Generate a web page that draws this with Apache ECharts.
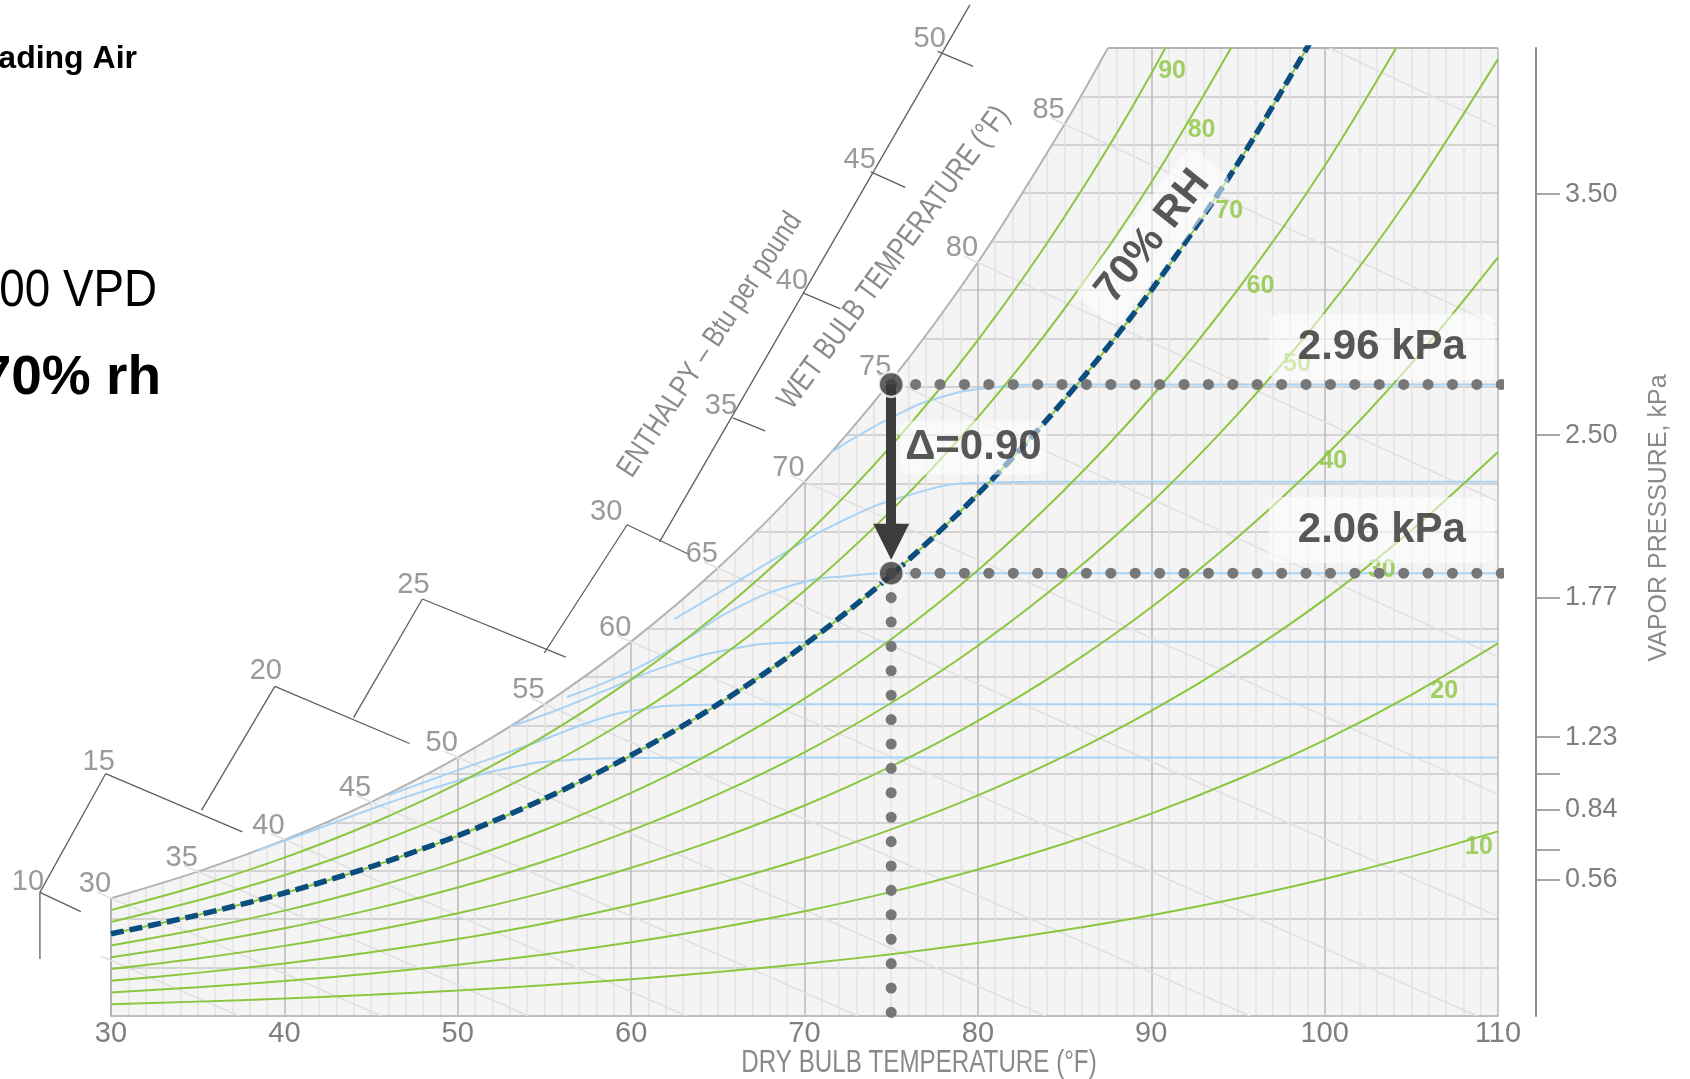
<!DOCTYPE html>
<html>
<head>
<meta charset="utf-8">
<title>Psychrometric chart – VPD</title>
<script src="https://cdn.jsdelivr.net/npm/echarts@6/dist/echarts.min.js"></script>
<style>
  html, body { margin: 0; padding: 0; background: #fff; }
  #chart { width: 1690px; height: 1079px; }
</style>
</head>
<body>
<div id="chart"></div>
<script>
// dry bulb temperatures (°F) for the RH curves
const temps = [30, 35, 40, 45, 50, 55, 60, 65, 70, 75, 80, 85, 90, 95, 100, 105, 110];

// humidity ratio, grains per lb of dry air
const rh10 = [2.42, 2.97, 3.61, 4.38, 5.28, 6.36, 7.61, 9.08, 10.79, 12.78, 15.09, 17.75, 20.81, 24.32, 28.32, 32.93, 38.15];
const rh20 = [4.84, 5.94, 7.23, 8.77, 10.58, 12.73, 15.26, 18.20, 21.64, 25.64, 30.28, 35.65, 41.81, 48.92, 57.01, 66.36, 76.98];
const rh30 = [7.27, 8.91, 10.86, 13.16, 15.89, 19.12, 22.92, 27.36, 32.53, 38.57, 45.58, 53.69, 63.02, 73.80, 86.08, 100.31, 116.51];
const rh40 = [9.70, 11.89, 14.49, 17.57, 21.21, 25.54, 30.62, 36.55, 43.49, 51.58, 60.98, 71.88, 84.44, 98.95, 115.54, 134.78, 156.74];
const rh50 = [12.13, 14.88, 18.12, 21.98, 26.54, 31.97, 38.34, 45.79, 54.49, 64.67, 76.50, 90.22, 106.06, 124.40, 145.38, 169.79, 197.70];
const rh60 = [14.56, 17.86, 21.77, 26.41, 31.89, 38.42, 46.09, 55.06, 65.56, 77.84, 92.12, 108.72, 127.89, 150.13, 175.63, 205.35];
const rh70 = [17.00, 20.85, 25.41, 30.84, 37.25, 44.89, 53.87, 64.38, 76.68, 91.08, 107.85, 127.37, 149.94, 176.17, 206.29];
const rh80 = [19.44, 23.85, 29.07, 35.28, 42.63, 51.37, 61.67, 73.73, 87.85, 104.41, 123.70, 146.17, 172.21, 202.50];
const rh90 = [21.88, 26.85, 32.73, 39.73, 48.01, 57.88, 69.51, 83.12, 99.08, 117.81, 139.66, 165.14, 194.70, 229.15];
const rhCurves = [rh10, rh20, rh30, rh40, rh50, rh60, rh70, rh80, rh90];

// saturation curve (also the wet bulb scale points 30..85)
const satTemps = [30, 35, 40, 45, 50, 55, 60, 65, 70, 75, 80, 85, 87.5];
const satW = [24.33, 29.84, 36.38, 44.18, 53.42, 64.40, 77.35, 92.55, 110.37, 131.28, 155.73, 184.26, 200];
const wetBulbLabels = ['30', '35', '40', '45', '50', '55', '60', '65', '70', '75', '80', '85'];

// wet bulb lines: start (just past saturation) and end points
const wbStartT = [29.4, 29.2, 34.2, 39.2, 44.2, 49.2, 54.2, 59.2, 64.2, 69.2, 74.2, 79.2, 84.2, 100.3];
const wbStartW = [12.4, 25.6, 31.1, 37.7, 45.5, 54.7, 65.7, 78.6, 93.8, 111.7, 132.6, 157.0, 185.6, 200];
const wbEndT = [37.4, 45.6, 54.1, 63.2, 73.1, 83.9, 95.7, 108.8, 110, 110, 110, 110, 110, 110];
const wbEndW = [0, 0, 0, 0, 0, 0, 0, 0, 20.6, 45.8, 74.2, 106.3, 142.6, 183.6];

// light blue curves leaving the saturation curve into constant humidity lines, [°F, grains]
const blueA = [[38.5, 34.3], [42, 38.8], [46, 44.0], [50, 48.6], [53, 51.3], [56, 52.8], [60, 53.3], [64, 53.42], [110, 53.42]];
const blueB = [[46, 45.6], [49, 49.5], [52.4, 53.8], [55.3, 57.6], [58, 61.2], [60, 63.0], [63, 64.2], [67, 64.4], [110, 64.4]];
const blueC = [[53, 59.8], [55.2, 62.5], [58.2, 66.8], [62.1, 72.4], [65.9, 75.9], [68.8, 77.1], [72, 77.35], [110, 77.35]];
const blueD = [[56.3, 65.9], [60.2, 71.6], [62.9, 77.2], [65.9, 84.0], [69.7, 89.4], [72.5, 90.9], [75.5, 91.5], [110, 91.5]];
const blueE = [[62.5, 82.0], [66, 89.5], [69, 96.0], [72, 102.0], [75.9, 107.5], [80.1, 110.2], [84, 110.37], [110, 110.37]];
const blueF = [[71.5, 116.4], [75.2, 124.0], [78.0, 128.0], [80.8, 129.8], [84.0, 130.5], [110, 130.5]];
const blueCurves = [blueA, blueB, blueC, blueD, blueE, blueF];

// enthalpy scale (Btu per pound), segments as [T1, W1, T2, W2]
const enthalpySegments = [
  [25.90, 25.55, 25.90, 11.76], [25.90, 25.55, 28.26, 21.56],
  [25.90, 25.55, 29.69, 50.06], [29.69, 50.06, 37.58, 38.04],
  [35.22, 42.49, 39.45, 68.10], [39.45, 68.10, 47.22, 56.30],
  [43.99, 61.65, 47.96, 86.16], [47.96, 86.16, 56.23, 74.13],
  [54.99, 75.00, 59.77, 101.5], [59.77, 101.5, 63.38, 95.30],
  [61.64, 97.96, 79.54, 208.9],
  [65.87, 123.6, 67.73, 120.9], [69.91, 149.4, 72.08, 146.1],
  [73.82, 174.4, 75.81, 171.2], [77.68, 199.3, 79.73, 196.2]
];
const enthalpyValues = ['10', '15', '20', '25', '30', '35', '40', '45', '50'];
const enthalpyT = [25.90, 29.69, 39.45, 47.96, 59.77, 65.87, 69.91, 73.82, 77.68];
const enthalpyW = [25.55, 50.06, 68.10, 86.16, 101.5, 123.6, 149.4, 174.4, 199.3];

// RH curve labels
const rhLabels = ['10', '20', '30', '40', '50', '60', '70', '80', '90'];
const rhLabelT = [108.9, 106.9, 103.3, 100.5, 98.4, 96.3, 94.5, 92.9, 91.2];
const rhLabelW = [34.9, 67.2, 92.2, 114.7, 134.7, 150.8, 166.4, 183.0, 195.3];

// right axis: vapor pressure ticks
const vpTickW = [169.8, 120.0, 86.4, 57.6, 50.0, 42.6, 34.3, 28.1];
const vpTickLabels = ['3.50', '2.50', '1.77', '1.23', '', '0.84', '', '0.56'];

// marked state: 75 °F, saturated vs 70% rh
const pointT = 75;
const satPointW = 130.5;
const rhPointW = 91.5;
const axisEdgeT = 112.13;
const arrowTipW = 98;

const NARROW = "'Liberation Sans Narrow', 'Liberation Sans', Arial, sans-serif";
const SANS = "'Liberation Sans', Arial, sans-serif";
const GREEN = '#8cc63f';
const GREY_TEXT = '#7f7f7f';

// label nudges for the enthalpy numbers (pixels)
const enthalpyLabelOffset = [[-12, -10], [-7, -12], [-9, -15], [-9, -14], [-21, -13], [-12, -12], [-11, -12], [-11, -12], [-8, -12]];

const pairs = (xs, ys) => xs.map((x, i) => [x, ys[i]]);
const line = (data, lineStyle, extra) => Object.assign({
  type: 'line', data, symbol: 'none', silent: true, z: 3, lineStyle
}, extra || {});

// straight segments [T1, W1, T2, W2] drawn through the axes, may leave the grid
const segments = (rows, style, z) => ({
  type: 'custom', coordinateSystem: 'cartesian2d', silent: true, clip: false, z,
  data: rows,
  encode: { x: [0, 2], y: [1, 3] },
  renderItem: (params, api) => {
    const a = api.coord([api.value(0), api.value(1)]);
    const b = api.coord([api.value(2), api.value(3)]);
    return { type: 'line', shape: { x1: a[0], y1: a[1], x2: b[0], y2: b[1] }, style };
  }
});

const series = [];

// white area above the saturation curve + its border
series.push(line(pairs(satTemps, satW), { color: '#b3b3b3', width: 2 }, {
  smooth: 0.3, z: 2, areaStyle: { color: '#ffffff', opacity: 1, origin: 'end' }
}));
// left and top borders of the chart body
series.push(line([[temps[0], 0], [satTemps[0], satW[0]]], { color: '#b3b3b3', width: 2 }, { z: 2 }));
series.push(line([[satTemps[satTemps.length - 1], 200], [110, 200]], { color: '#b3b3b3', width: 2 }, { z: 2 }));

// wet bulb lines
series.push(segments(wbStartT.map((t, i) => [t, wbStartW[i], wbEndT[i], wbEndW[i]]),
  { stroke: '#e0e0e0', lineWidth: 1.5 }, 3));

// blue curves
blueCurves.forEach(c => {
  series.push(line(c, { color: '#a9d3f5', width: 2 }, { smooth: 0.5 }));
});

// RH curves
rhCurves.forEach(c => {
  series.push(line(pairs(temps.slice(0, c.length), c), { color: GREEN, width: 2 }, { smooth: 0.3 }));
});

// 70 % RH highlighted
series.push(line(pairs(temps.slice(0, rh70.length), rh70), { color: '#0b4d7e', width: 5.5, type: [13, 6] }, { smooth: 0.3, z: 4 }));

// enthalpy scale
series.push(segments(enthalpySegments, { stroke: '#5f5f5f', lineWidth: 1.3 }, 3));

const labelPoints = (data, label, extra) => Object.assign({
  type: 'scatter', data, symbol: 'circle', symbolSize: 1, silent: true, z: 5, clip: false,
  itemStyle: { color: 'rgba(255,255,255,0)' }, label: Object.assign({ show: true, position: 'inside' }, label)
}, extra || {});

// wet bulb labels
series.push(labelPoints(pairs(satTemps.slice(0, wetBulbLabels.length), satW), {
  formatter: p => wetBulbLabels[p.dataIndex], offset: [-16, -14],
  color: GREY_TEXT, fontFamily: NARROW, fontSize: 29
}));
// enthalpy labels
series.push(labelPoints(enthalpyT.map((t, i) => ({
  value: [t, enthalpyW[i]], label: { offset: enthalpyLabelOffset[i] }
})), {
  formatter: p => enthalpyValues[p.dataIndex],
  color: GREY_TEXT, fontFamily: NARROW, fontSize: 29
}));
// RH labels
series.push(labelPoints(pairs(rhLabelT, rhLabelW), {
  formatter: p => rhLabels[p.dataIndex],
  color: GREEN, fontFamily: SANS, fontWeight: 'bold', fontSize: 25
}, { z: 4 }));

// dotted guide lines
const dots = { color: '#777777', width: 11, type: [0.1, 24.3], cap: 'round' };
series.push(line([[pointT, satPointW], [axisEdgeT, satPointW]], dots, { clip: false, z: 6 }));
series.push(line([[pointT, rhPointW], [axisEdgeT, rhPointW]], dots, { clip: false, z: 6 }));
series.push(line([[pointT, rhPointW], [pointT, 0]], dots, { clip: false, z: 6 }));

// value boxes
const boxLabel = {
  color: '#2e2e2e', fontFamily: SANS, fontWeight: 'bold', fontSize: 42,
  backgroundColor: 'rgba(255,255,255,0.68)', borderRadius: 10
};
series.push(labelPoints([[103.3, 138.2]], Object.assign({ formatter: '2.96 kPa', padding: [12, 29] }, boxLabel), { z: 5 }));
series.push(labelPoints([[103.3, 100.4]], Object.assign({ formatter: '2.06 kPa', padding: [12, 29] }, boxLabel), { z: 5 }));
series.push(labelPoints([[79.74, 117.4]], Object.assign({ formatter: 'Δ=0.90', padding: [6, 5] }, boxLabel), { z: 5 }));
series.push(labelPoints([[90.1, 161]], Object.assign({ formatter: '70% RH', padding: [6, 16], rotate: 51.5 }, boxLabel), { z: 5 }));

// arrow
series.push({
  type: 'lines', coordinateSystem: 'cartesian2d', silent: true, z: 7,
  symbol: ['none', 'triangle'], symbolSize: 36,
  lineStyle: { color: '#3c3c3c', width: 10, opacity: 1 },
  data: [{ coords: [[pointT, satPointW], [pointT, arrowTipW]] }]
});

// point markers
series.push({
  type: 'scatter', silent: true, z: 8, symbolSize: 25,
  itemStyle: { color: '#3a3a3a', borderColor: '#ffffff', borderWidth: 2.5 },
  data: [[pointT, satPointW], [pointT, rhPointW]]
});

// free text: condensed look made with a horizontal squeeze
const note = (text, x, y, font, opts) => Object.assign({
  type: 'text', z: 100, x, y,
  style: { text, fill: '#000', font, align: 'right', verticalAlign: 'middle' }
}, opts || {});
const greyTitle = (text, x, y, size, rot, squeeze) => ({
  type: 'text', z: 100, x, y, rotation: rot, scaleX: squeeze,
  style: { text, fill: '#8a8a8a', font: size + "px 'Liberation Sans', Arial, sans-serif", align: 'center', verticalAlign: 'middle' }
});

const chart = echarts.init(document.getElementById('chart'));
chart.setOption({
  animation: false,
  backgroundColor: '#ffffff',
  grid: { left: 111, right: 192, top: 48, bottom: 63, show: true, backgroundColor: '#f4f4f4', borderWidth: 0 },
  xAxis: {
    type: 'value', min: 30, max: 110, interval: 10,
    axisLine: { show: true, lineStyle: { color: '#bdbdbd', width: 2 } },
    axisTick: { show: false },
    axisLabel: { color: GREY_TEXT, fontFamily: NARROW, fontSize: 29, margin: 3 },
    splitLine: { show: true, showMinLine: false, lineStyle: { color: '#bababa', width: 1.5 } },
    minorTick: { show: false, splitNumber: 10 },
    minorSplitLine: { show: true, lineStyle: { color: '#e2e2e2', width: 1.5 } }
  },
  yAxis: [{
    type: 'value', min: 0, max: 200, interval: 10,
    axisLine: { show: false }, axisTick: { show: false }, axisLabel: { show: false },
    splitLine: { show: true, showMaxLine: false, lineStyle: { color: '#c9c9c9', width: 1.5 } }
  }, {
    type: 'value', min: 0, max: 200, position: 'right', offset: 38,
    name: 'VAPOR PRESSURE, kPa', nameLocation: 'middle', nameRotate: 90, nameGap: 111,
    nameTextStyle: { color: '#8a8a8a', fontFamily: NARROW, fontSize: 25, padding: [0, 0, 0, 28] },
    axisLine: { show: true, lineStyle: { color: '#8c8c8c', width: 2 } },
    axisTick: { show: true, length: 24, lineStyle: { color: '#8c8c8c', width: 1.5 }, customValues: vpTickW },
    axisLabel: {
      color: GREY_TEXT, fontFamily: NARROW, fontSize: 27, margin: 29,
      customValues: vpTickW.filter((v, i) => vpTickLabels[i] !== ''),
      formatter: v => vpTickLabels[vpTickW.findIndex(w => Math.abs(w - v) < 0.01)] || ''
    },
    splitLine: { show: false }
  }],
  graphic: [
    note('Leading Air', 137, 59, "bold 32px 'Liberation Sans', Arial, sans-serif"),
    note('1.00 VPD', 157, 292, "52px 'Liberation Sans', Arial, sans-serif", { scaleX: 0.88 }),
    note('at 70% rh', 161, 379, "bold 55px 'Liberation Sans', Arial, sans-serif"),
    greyTitle('DRY BULB TEMPERATURE (°F)', 919, 1063, 31, 0, 0.78),
    greyTitle('ENTHALPY – Btu per pound', 710, 345, 30, 0.988, 0.815),
    greyTitle('WET BULB TEMPERATURE (°F)', 894, 258, 31, 0.935, 0.8)
  ],
  series
});
</script>
</body>
</html>
